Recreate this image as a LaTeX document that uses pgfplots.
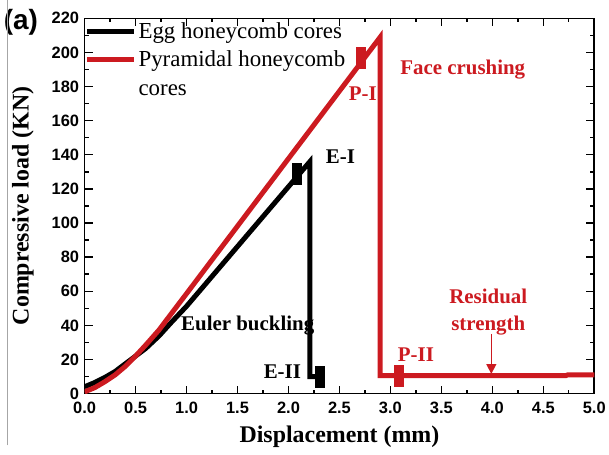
\documentclass[border=0pt]{standalone}
\usepackage{fontspec}
\setmainfont{Liberation Serif}
\newfontfamily\arialf{Liberation Sans}
\usepackage{pgfplots}
\pgfplotsset{compat=1.18}
\usetikzlibrary{arrows.meta}
\definecolor{pred}{HTML}{CC1A20}

\begin{document}
\begin{tikzpicture}
\begin{axis}[
    scale only axis,
    width=512pt, height=377pt,
    xmin=0, xmax=5, ymin=0, ymax=220,
    xtick={0,0.5,...,5}, ytick={0,20,...,220},
    minor x tick num=1, minor y tick num=1,
    tick align=inside, xtick pos=both, ytick pos=both,
    major tick length=8pt, minor tick length=4pt,
    every tick/.style={black, line width=1.4pt},
    axis line style={line width=1.6pt},
    /pgf/number format/assume math mode=true,
    ticklabel style={font=\arialf\bfseries\fontsize{16.5}{16.5}\selectfont},
    xticklabel style={yshift=-5pt, /pgf/number format/fixed, /pgf/number format/fixed zerofill, /pgf/number format/precision=1},
    yticklabel style={xshift=-2pt},
    xlabel={\textbf{Displacement (mm)}},
    ylabel={\textbf{Compressive load (KN)}},
    label style={font=\fontsize{24}{24}\selectfont},
    xlabel style={at={(axis description cs:0.5,-0.115)}, anchor=center},
    ylabel style={at={(axis description cs:-0.121,0.5)}, anchor=center},
    legend style={draw=none, fill=none, at={(0,1)}, anchor=north west,
        yshift=0pt, inner xsep=0pt, inner ysep=2pt, row sep=7pt,
        font=\fontsize{23}{29}\selectfont,
        cells={anchor=base west}},
    legend image code/.code={\draw[#1] (0pt,7pt) -- (47pt,7pt);},
]
% Egg honeycomb cores
\addplot[black, line width=5pt] coordinates {
    (0,4) (0.1,6.5) (0.2,9.5) (0.3,13) (0.4,17.5) (0.5,22) (0.6,26.5)
    (0.73,33.8) (0.85,41.7) (1.0,51.2) (1.14,61) (2.21,136) (2.21,10) (2.31,10)
};
\addlegendentry{Egg honeycomb cores}
% Pyramidal honeycomb cores
\addplot[pred, line width=5pt] coordinates {
    (0,1) (0.1,3.5) (0.2,7) (0.3,11) (0.4,16) (0.5,22) (0.6,28.5)
    (0.73,37.3) (0.85,46.8) (1.0,58.6) (2.90,209) (2.90,10.5) (4.72,10.5)
    (4.74,11) (5.0,11)
};
\addlegendentry{\vtop{\hbox{Pyramidal honeycomb}\hbox{cores}}}
% failure points
\addplot[forget plot, only marks, black, mark=square*, mark size=4.5pt,
    mark options={yscale=2.3}] coordinates {(2.08,129) (2.31,10)};
\addplot[forget plot, only marks, pred, mark=square*, mark size=4.5pt,
    mark options={yscale=2.3}] coordinates {(2.71,197) (3.08,10.5)};
% labels
\node[font=\bfseries\fontsize{21}{21}\selectfont] at (axis cs:2.51,139) {E-I};
\node[font=\bfseries\fontsize{21}{21}\selectfont] at (axis cs:1.94,13) {E-II};
\node[font=\bfseries\fontsize{21}{21}\selectfont] at (axis cs:1.60,40) {Euler buckling};
\node[font=\bfseries\fontsize{21}{21}\selectfont, pred] at (axis cs:2.73,176) {P-I};
\node[font=\bfseries\fontsize{21}{21}\selectfont, pred] at (axis cs:3.25,23) {P-II};
\node[font=\bfseries\fontsize{21}{21}\selectfont, pred] at (axis cs:3.71,190) {Face crushing};
\node[font=\bfseries\fontsize{21}{21}\selectfont, pred] at (axis cs:3.96,57) {Residual};
\node[font=\bfseries\fontsize{21}{21}\selectfont, pred] at (axis cs:3.96,40) {strength};
\draw[pred, line width=1.5pt, -{Triangle[width=10pt,length=10pt]}]
    (axis cs:3.99,35) -- (axis cs:3.99,11.5);
\end{axis}
\node[font=\arialf\bfseries\fontsize{28}{28}\selectfont] at ([xshift=-64pt,yshift=-4pt]current axis.north west) {(a)};
\draw[gray!70, line width=0.8pt] ([xshift=-78pt,yshift=-52pt]current axis.south west) -- ([xshift=-78pt,yshift=18pt]current axis.north west);
\path ([xshift=-85pt,yshift=-61pt]current axis.south west) rectangle ([xshift=12pt,yshift=18pt]current axis.north east);
\end{tikzpicture}
\end{document}
